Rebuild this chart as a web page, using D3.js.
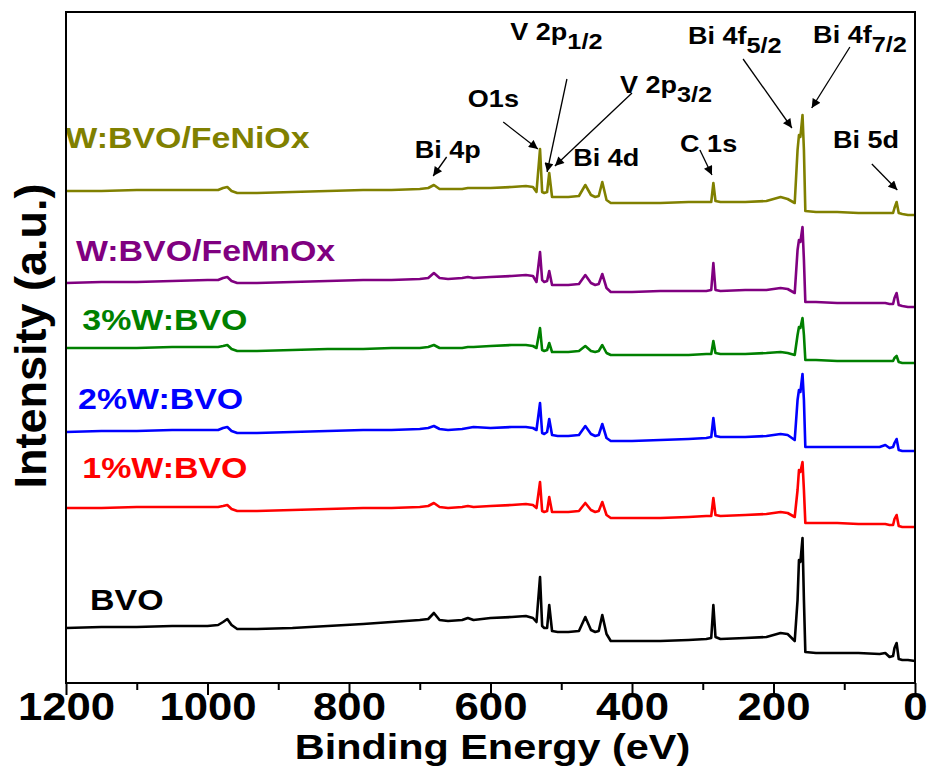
<!DOCTYPE html>
<html>
<head>
<meta charset="utf-8">
<script src="https://cdn.jsdelivr.net/npm/d3@7"></script>
<style>
  html, body { margin: 0; padding: 0; background: #fff; }
  svg { display: block; }
  text { font-family: "Liberation Sans", Arial, sans-serif; font-weight: bold; }
</style>
</head>
<body>
<svg id="chart" width="927" height="777"></svg>
<script>
// Binding energy grid (eV) shared by all survey spectra
const energy = [1200, 1150, 1100, 1050, 1000, 985, 978, 972, 966, 958, 930, 880, 830, 780, 740, 700,
  688, 680, 672, 660, 640, 632, 624, 600, 570, 550, 540, 535, 530, 527, 524, 520, 517, 513, 505, 490,
  475, 466, 458, 452, 447, 442, 436, 430, 400, 360, 320, 295, 288, 285, 282, 275, 240, 210, 190, 180,
  170, 166, 164, 162, 159, 157, 155, 140, 110, 80, 50, 42, 36, 31, 29, 26, 23, 18, 10, 0];

// Offset-stacked intensities (a.u.), one value per energy point
const bvo = [55, 56, 56, 57, 57, 58, 61, 64, 58, 54, 54, 55, 57, 59, 61, 63,
  64, 70, 63, 62, 63, 65, 63, 65, 66, 67, 65, 61, 106, 57, 55, 55, 78, 52, 51, 51,
  52, 66, 53, 51, 52, 68, 49, 42, 42, 42, 43, 44, 45, 78, 46, 44, 45, 46, 50, 49,
  42, 83, 123, 121, 145, 83, 31, 30, 30, 30, 29, 30, 26, 27, 35, 40, 24, 23, 23, 22];
const w1 = [175, 175, 176, 176, 176, 176, 177, 178, 174, 172, 172, 173, 174, 175, 175, 176,
  177, 180, 176, 175, 176, 177, 176, 177, 178, 179, 178, 175, 201, 172, 171, 172, 186, 171, 171, 171,
  172, 180, 173, 171, 172, 181, 168, 165, 165, 165, 166, 167, 167, 185, 168, 167, 168, 169, 171, 170,
  166, 193, 213, 211, 221, 193, 160, 160, 160, 159, 159, 159, 158, 158, 164, 168, 157, 156, 156, 156];
const w2 = [251, 252, 252, 253, 253, 253, 255, 256, 252, 250, 250, 251, 252, 253, 253, 254,
  255, 257, 254, 253, 254, 255, 256, 255, 256, 256, 255, 253, 280, 250, 249, 251, 264, 248, 247, 247,
  248, 257, 249, 247, 248, 259, 245, 242, 242, 243, 244, 245, 246, 265, 247, 246, 246, 247, 249, 248,
  243, 283, 293, 291, 309, 283, 236, 236, 236, 236, 236, 238, 235, 236, 240, 244, 233, 232, 232, 232];
const w3 = [335, 335, 335, 336, 336, 336, 337, 338, 334, 332, 332, 333, 334, 334, 335, 335,
  336, 338, 335, 335, 335, 336, 336, 337, 338, 338, 337, 335, 355, 333, 332, 333, 340, 331, 331, 331,
  332, 337, 332, 331, 332, 338, 330, 328, 328, 328, 328, 329, 329, 342, 330, 329, 329, 330, 331, 330,
  328, 348, 356, 355, 365, 348, 323, 323, 322, 322, 322, 322, 322, 322, 325, 327, 321, 320, 320, 320];
const feMn = [400, 401, 401, 402, 403, 403, 405, 406, 402, 400, 400, 401, 402, 403, 403, 404,
  405, 410, 405, 404, 405, 406, 405, 406, 407, 408, 407, 401, 431, 403, 401, 402, 412, 398, 398, 398,
  399, 408, 400, 398, 399, 409, 395, 391, 391, 392, 392, 392, 393, 420, 393, 392, 393, 393, 395, 394,
  390, 433, 443, 441, 456, 423, 381, 381, 380, 380, 380, 380, 379, 379, 385, 390, 378, 377, 376, 376];
const feNi = [492, 492, 493, 493, 493, 493, 495, 496, 492, 490, 490, 491, 492, 493, 493, 494,
  495, 498, 494, 494, 494, 495, 495, 495, 496, 497, 496, 491, 534, 491, 490, 491, 510, 486, 486, 486,
  487, 498, 488, 486, 487, 501, 483, 480, 480, 480, 481, 481, 481, 500, 482, 481, 481, 482, 486, 484,
  480, 533, 548, 546, 568, 533, 472, 471, 471, 470, 470, 470, 470, 470, 475, 481, 470, 469, 468, 468];

const sampleNames = ["BVO", "1%W:BVO", "2%W:BVO", "3%W:BVO", "W:BVO/FeMnOx", "W:BVO/FeNiOx"];
const sampleColors = ["#000000", "#ff0000", "#0000ff", "#008000", "#800080", "#808000"];
// Label anchor (left edge energy, baseline intensity) for each sample name
const sampleLabelE = [1166, 1177, 1183, 1177, 1186, 1201];
const sampleLabelI = [73, 205, 274, 353, 422, 535];

// Peak assignments: text anchor and arrow from/to in (energy, intensity)
const peakMain = ["Bi 4p", "O1s", "V 2p", "V 2p", "Bi 4d", "C 1s", "Bi 4f", "Bi 4f", "Bi 5d"];
const peakSub = ["", "", "1/2", "3/2", "", "", "5/2", "7/2", ""];
const peakTextE = [707, 632, 572, 417, 483, 332, 321, 144, 116];
const peakTextI = [525, 576, 643, 590, 517, 531, 639, 640, 535];
const arrowFromE = [662, 582, 492, 400, null, 304, 243, 92, 61];
const arrowFromI = [526, 561, 604, 590, null, 533, 624, 636, 519];
const arrowToE = [681, 533, 520, 509, null, 287, 174, 146, 25];
const arrowToI = [507, 534, 511, 517, null, 508, 555, 575, 493];

const xMajor = [1200, 1000, 800, 600, 400, 200, 0];
const xMinor = [1100, 900, 700, 500, 300, 100];

const W = 927, H = 777;
const margin = { left: 66, right: 12, top: 12, bottom: 94 };
const svg = d3.select("#chart");
const x = d3.scaleLinear().domain([1200, 0]).range([margin.left, W - margin.right]);
const y = d3.scaleLinear().domain([0, 671]).range([H - margin.bottom, margin.top]);
const SX = 1.15; // horizontal glyph stretch

const series = [bvo, w1, w2, w3, feMn, feNi];
const line = d3.line().x(d => x(d[0])).y(d => y(d[1]));

const gLines = svg.append("g");
series.forEach((vals, i) => {
  gLines.append("path")
    .datum(energy.map((e, k) => [e, vals[k]]))
    .attr("d", line)
    .attr("fill", "none")
    .attr("stroke", sampleColors[i])
    .attr("stroke-width", 2.6)
    .attr("stroke-linejoin", "round");
});

// Sample names
sampleNames.forEach((name, i) => {
  svg.append("text")
    .attr("transform", `translate(${x(sampleLabelE[i])},${y(sampleLabelI[i])}) scale(${SX},1)`)
    .attr("fill", sampleColors[i])
    .attr("font-size", 29.5)
    .text(name);
});

// Arrowhead marker
svg.append("defs").append("marker")
  .attr("id", "ah")
  .attr("viewBox", "0 0 10 10")
  .attr("refX", 10).attr("refY", 5)
  .attr("markerWidth", 11).attr("markerHeight", 9)
  .attr("markerUnits", "userSpaceOnUse")
  .attr("orient", "auto")
  .append("path").attr("d", "M0,0 L10,5 L0,10 Z").attr("fill", "#000");

peakMain.forEach((m, i) => {
  const t = svg.append("text")
    .attr("transform", `translate(${x(peakTextE[i])},${y(peakTextI[i])}) scale(${SX},1)`)
    .attr("font-size", 23.5)
    .attr("fill", "#000");
  t.append("tspan").text(m);
  if (peakSub[i]) {
    t.append("tspan").attr("dy", 9).attr("font-size", 22).text(peakSub[i]);
  }
  if (arrowFromE[i] !== null) {
    svg.append("line")
      .attr("x1", x(arrowFromE[i])).attr("y1", y(arrowFromI[i]))
      .attr("x2", x(arrowToE[i])).attr("y2", y(arrowToI[i]))
      .attr("stroke", "#000").attr("stroke-width", 1.3)
      .attr("marker-end", "url(#ah)");
  }
});

// Frame
svg.append("rect")
  .attr("x", margin.left).attr("y", margin.top)
  .attr("width", W - margin.left - margin.right)
  .attr("height", H - margin.top - margin.bottom)
  .attr("fill", "none").attr("stroke", "#000").attr("stroke-width", 2);

// Bottom axis: major and minor ticks
const gx = svg.append("g")
  .attr("transform", `translate(0,${H - margin.bottom})`)
  .call(d3.axisBottom(x).tickValues(xMajor).tickSize(12).tickPadding(-2).tickFormat(d3.format("d")));
gx.select(".domain").remove();
gx.selectAll(".tick line").attr("stroke-width", 2);
gx.selectAll(".tick text")
  .attr("font-size", 38)
  .attr("font-family", "'Liberation Sans', Arial, sans-serif")
  .attr("font-weight", "bold")
  .attr("fill", "#000")
  .attr("transform", `scale(${SX},1)`);

const gxm = svg.append("g")
  .attr("transform", `translate(0,${H - margin.bottom})`)
  .call(d3.axisBottom(x).tickValues(xMinor).tickSize(7).tickFormat(""));
gxm.select(".domain").remove();
gxm.selectAll(".tick line").attr("stroke-width", 2);

// Axis titles
svg.append("text")
  .attr("transform", `translate(${(margin.left + W - margin.right) / 2 + 2},759) scale(${SX},1)`)
  .attr("text-anchor", "middle")
  .attr("font-size", 36)
  .text("Binding Energy (eV)");

svg.append("text")
  .attr("transform", "translate(46,336) rotate(-90)")
  .attr("text-anchor", "middle")
  .attr("font-size", 45)
  .text("Intensity (a.u.)");
</script>
</body>
</html>
